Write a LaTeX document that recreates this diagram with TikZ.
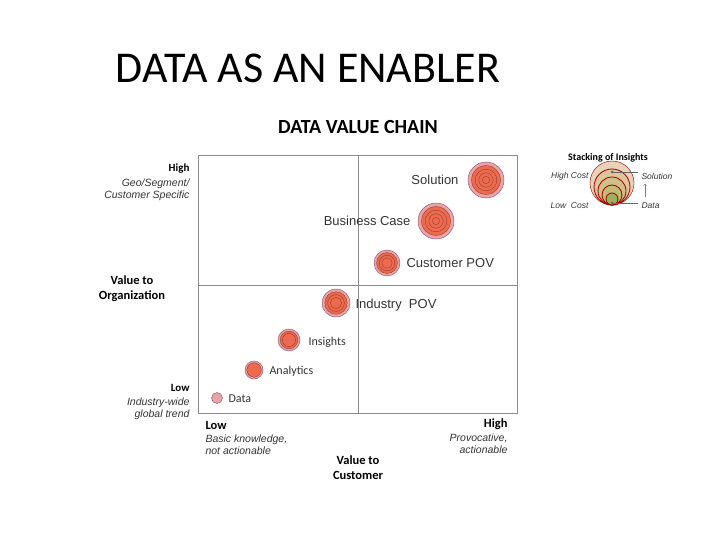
\documentclass[tikz,border=0pt]{standalone}
\usepackage{fontspec}
\setmainfont{Carlito}
\newfontfamily\arialfont{Liberation Sans}
\definecolor{ringpink}{HTML}{EBA3A3}
\definecolor{ringedge}{HTML}{8A4A7A}
\definecolor{ringred}{HTML}{EE6A4E}
\definecolor{axisgray}{HTML}{8C8C8C}
\definecolor{legouter}{HTML}{EAD2B8}
\tikzset{
  lbl/.style={font=\arialfont\fontsize{13}{15}\selectfont, text=black!80},
  clbl/.style={font=\fontsize{12}{14}\selectfont, text=black!80},
  axhead/.style={font=\bfseries\fontsize{12.5}{15}\selectfont, align=center},
  axnote/.style={font=\arialfont\itshape\fontsize{10.5}{12.5}\selectfont, text=black!80},
  legnote/.style={font=\arialfont\itshape\fontsize{8.5}{10}\selectfont, text=black!80},
}
% stacked ring bubble: name, centre, radius, rings
\newcommand{\bubble}[4]{%
  \fill[ringpink, draw=ringedge] (#2) circle (#3);
  \foreach \k in {1,...,#4}{
    \draw[ringred!60!black, fill=ringred] (#2) circle ({#3*(1-0.2*\k)});
  }
  \coordinate (#1) at (#2);
}
\begin{document}
\begin{tikzpicture}[x=1pt, y=-1pt]
  \useasboundingbox (0,0) rectangle (720,540);
  % titles
  \node (title) at (308,68) {\fontsize{44}{48}\selectfont DATA AS AN ENABLER};
  \node (chain) at (358,127) {\bfseries\fontsize{20}{24}\selectfont DATA VALUE CHAIN};
  % frame
  \draw[axisgray] (198,155) rectangle (517,413);
  \draw[axisgray] (358,155) -- (358,413);
  \draw[axisgray] (198,285) -- (517,285);
  % bubbles
  \bubble{sol}{486,180}{18}{4}
  \bubble{bc}{436,221}{18}{4}
  \bubble{cpov}{387,263}{13}{3}
  \bubble{ipov}{336,303}{14}{3}
  \bubble{ins}{289,340}{11}{2}
  \bubble{ana}{254,370}{9}{1}
  \fill[ringpink, draw=ringedge] (217,398) circle (5.5);
  \coordinate (dat) at (217,398);
  \node[lbl, anchor=east] at ([xshift=-24pt]sol) {Solution};
  \node[lbl, anchor=east] at ([xshift=-22pt]bc) {Business Case};
  \node[lbl, anchor=west] at ([xshift=16pt]cpov) {Customer POV};
  \node[lbl, anchor=west] at ([xshift=16pt,yshift=-2pt]ipov) {Industry\ \ POV};
  \node[clbl, anchor=west] at ([xshift=16pt,yshift=-2pt]ins) {Insights};
  \node[clbl, anchor=west] at ([xshift=12pt,yshift=-1pt]ana) {Analytics};
  \node[clbl, anchor=west] at ([xshift=8pt,yshift=-1pt]dat) {Data};
  % vertical axis
  \node[axhead, anchor=east, font=\bfseries\fontsize{11}{13}\selectfont] (vhigh) at (193,169) {High};
  \node[axnote, anchor=north east, align=right] (vhighn) at (193,175) {Geo/Segment/\\Customer Specific};
  \node[axhead] (vaxis) at (132,289) {Value to\\Organization};
  \node[axhead, anchor=east, font=\bfseries\fontsize{11}{13}\selectfont] (vlow) at (193,388) {Low};
  \node[axnote, anchor=north east, align=right] (vlown) at (193,394) {Industry-wide\\global trend};
  % horizontal axis
  \node[axhead, anchor=west] (hlow) at (202,425) {Low};
  \node[axnote, anchor=north west, align=left] (hlown) at (202,431) {Basic knowledge,\\ not actionable};
  \node[axhead] (haxis) at (358,468) {Value to\\Customer};
  \node[axhead, anchor=east] (hhigh) at (511,424) {High};
  \node[axnote, anchor=north east, align=right] (hhighn) at (511,430) {Provocative,\\actionable};
  % legend
  \node (stack) at (608,158) {\bfseries\fontsize{10}{12}\selectfont Stacking of Insights};
  \fill[legouter, draw=red!50!black] (612,183) circle (22);
  \foreach \r/\c in {18/E0C49A, 14/D0C088, 10/C0BC74, 6/9CB060}{
    \definecolor{tmp}{HTML}{\c}
    \fill[tmp, draw=red!60!black, line width=0.8pt] (612,{205-\r}) circle (\r);
  }
  \coordinate (topdot) at (612,172);
  \coordinate (botdot) at (612,203);
  \fill[black!60] (topdot) circle (1.5);
  \fill[black!60] (botdot) circle (1.5);
  \node[legnote, anchor=east] (hc) at (592,176) {High Cost};
  \node[legnote, anchor=east] (lc) at (592,206) {Low\ \ Cost};
  \node[legnote, anchor=west] (solleg) at (638,176) {Solution};
  \node[legnote, anchor=west] (datleg) at (638,206) {Data};
  \coordinate (arrbot) at (645,197);
  \coordinate (arrtop) at (645,184);
  \draw[black!60] (topdot) -- (solleg.west |- topdot);
  \draw[black!60] (botdot) -- (datleg.west |- botdot);
  \draw[black!50, ->] (arrbot) -- (arrtop);
\end{tikzpicture}
\end{document}
